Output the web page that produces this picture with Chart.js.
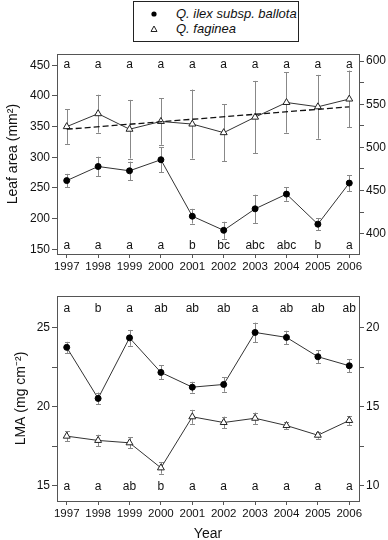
<!DOCTYPE html>
<html lang="en">
<head>
  <meta charset="UTF-8" />
  <title>Leaf area and LMA</title>
  <script src="https://cdn.jsdelivr.net/npm/chart.js"></script>
  <style>
    body { margin: 0; background: #fff; width: 388px; height: 540px; position: relative; overflow: hidden; }
    canvas { position: absolute; left: 0; }
    #areaChart { top: 45px; }
    #lmaChart { top: 285px; }
    .legend {
      position: absolute; left: 133px; top: 1px; width: 164px; height: 39px;
      border: 1px solid #222; font: italic 13px "Liberation Sans", Arial, sans-serif; color: #111;
    }
    .legend div { position: absolute; left: 42px; }
    .legend svg { position: absolute; left: 16px; }
  </style>
</head>
<body>
  <div class="legend">
    <svg width="8" height="8" style="top:8px"><circle cx="4" cy="4" r="2.6" fill="#000"/></svg>
    <div style="top:4px">Q. ilex subsp. ballota</div>
    <svg width="8" height="8" style="top:23px"><polygon points="4,1 7,6.5 1,6.5" fill="#fff" stroke="#222" stroke-width="1"/></svg>
    <div style="top:19px">Q. faginea</div>
  </div>

  <canvas id="areaChart" width="388" height="240"></canvas>
  <canvas id="lmaChart" width="388" height="258"></canvas>

  <script>
    const years = ['1997', '1998', '1999', '2000', '2001', '2002', '2003', '2004', '2005', '2006'];

    // leaf area (mm2): Q. ilex on left axis, Q. faginea on right axis
    const ilexArea = [262, 285, 278, 296, 204, 181, 216, 240, 191, 258];
    const ilexAreaErr = [11, 16, 15, 20, 12, 14, 23, 11, 10, 13];
    const fagineaArea = [524, 539, 521, 530, 527, 517, 535, 552, 547, 556];
    const fagineaAreaErr = [20, 22, 34, 27, 40, 33, 42, 35, 37, 33];
    const fagineaTrend = [521, 547];   // dashed fit, 1997 and 2006
    const areaLettersTop = ['a', 'a', 'a', 'a', 'a', 'a', 'a', 'a', 'a', 'a'];
    const areaLettersBottom = ['a', 'a', 'a', 'a', 'b', 'bc', 'abc', 'abc', 'b', 'a'];

    // LMA (mg cm-2)
    const ilexLma = [23.74, 20.52, 24.34, 22.16, 21.23, 21.4, 24.68, 24.37, 23.15, 22.58];
    const ilexLmaErr = [0.35, 0.37, 0.5, 0.44, 0.34, 0.46, 0.62, 0.42, 0.4, 0.4];
    const fagineaLma = [13.14, 12.87, 12.72, 11.14, 14.36, 14.0, 14.27, 13.81, 13.2, 14.13];
    const fagineaLmaErr = [0.32, 0.36, 0.35, 0.37, 0.44, 0.37, 0.36, 0.21, 0.22, 0.28];
    const lmaLettersTop = ['a', 'b', 'a', 'ab', 'ab', 'ab', 'a', 'ab', 'ab', 'ab'];
    const lmaLettersBottom = ['a', 'a', 'ab', 'b', 'a', 'a', 'a', 'a', 'a', 'a'];

    // labelled ticks
    const areaLeftTicks = [150, 200, 250, 300, 350, 400, 450];
    const areaRightTicks = [400, 450, 500, 550, 600];
    const lmaLeftTicks = [15, 20, 25];
    const lmaRightTicks = [10, 15, 20];

    Chart.defaults.font.family = '"Liberation Sans", Arial, sans-serif';
    Chart.defaults.color = '#111';

    const frameColor = '#555';

    // major + halfway minor ticks
    function withMinor(list) {
      const out = [];
      list.forEach((v, i) => {
        out.push(v);
        if (i < list.length - 1) out.push((v + list[i + 1]) / 2);
      });
      return out;
    }

    function pts(vals) {
      return vals.map((v, i) => ({ x: i, y: v }));
    }

    const framePlugin = {
      id: 'frame',
      afterDraw(chart) {
        const { ctx, chartArea: a } = chart;
        ctx.save();
        ctx.strokeStyle = frameColor;
        ctx.lineWidth = 1;
        ctx.strokeRect(Math.round(a.left) + 0.5, Math.round(a.top) + 0.5,
          Math.round(a.right - a.left), Math.round(a.bottom - a.top));
        ctx.restore();
      }
    };

    const errorBarPlugin = {
      id: 'errorBars',
      beforeDatasetsDraw(chart) {
        const ctx = chart.ctx;
        ctx.save();
        ctx.strokeStyle = '#888';
        ctx.lineWidth = 1;
        chart.data.datasets.forEach((ds, i) => {
          if (!ds.errors) return;
          const meta = chart.getDatasetMeta(i);
          const yScale = chart.scales[ds.yAxisID];
          meta.data.forEach((p, j) => {
            const v = ds.data[j].y;
            const top = yScale.getPixelForValue(v + ds.errors[j]);
            const bot = yScale.getPixelForValue(v - ds.errors[j]);
            const x = Math.round(p.x) + 0.5;
            ctx.beginPath();
            ctx.moveTo(x, top); ctx.lineTo(x, bot);
            ctx.moveTo(x - 2.5, Math.round(top) + 0.5); ctx.lineTo(x + 2.5, Math.round(top) + 0.5);
            ctx.moveTo(x - 2.5, Math.round(bot) + 0.5); ctx.lineTo(x + 2.5, Math.round(bot) + 0.5);
            ctx.stroke();
          });
        });
        ctx.restore();
      }
    };

    const lettersPlugin = {
      id: 'letters',
      afterDraw(chart, args, opts) {
        const { ctx, chartArea: a } = chart;
        const xScale = chart.scales.x;
        ctx.save();
        ctx.font = '12px "Liberation Sans", Arial, sans-serif';
        ctx.fillStyle = '#111';
        ctx.textAlign = 'center';
        ctx.textBaseline = 'middle';
        opts.top.forEach((t, i) => ctx.fillText(t, xScale.getPixelForValue(i), a.top + opts.topGap));
        opts.bottom.forEach((t, i) => ctx.fillText(t, xScale.getPixelForValue(i), a.bottom - opts.bottomGap));
        ctx.restore();
      }
    };

    function yAxis(pos, min, max, labelled, title, titlePad) {
      const all = withMinor(labelled);
      return {
        type: 'linear',
        position: pos,
        min: min,
        max: max,
        afterBuildTicks: s => { s.ticks = all.map(v => ({ value: v })); },
        afterFit: s => { s.width = pos === 'left' ? 57 : 29; },
        ticks: {
          font: { size: 12 },
          padding: 2,
          callback: v => labelled.includes(v) ? String(v) : ''
        },
        grid: { drawOnChartArea: false, tickLength: 5, color: frameColor },
        border: { display: false },
        title: title ? { display: true, text: title, font: { size: 14 }, padding: { top: titlePad, bottom: 0 } } : { display: false }
      };
    }

    function xAxis(height, title) {
      return {
        type: 'linear',
        position: 'bottom',
        min: -0.31,
        max: 9.31,
        afterBuildTicks: s => { s.ticks = years.map((y, i) => ({ value: i })); },
        afterFit: s => { s.height = height; },
        ticks: { font: { size: 11.5 }, padding: 2, maxRotation: 0, callback: v => years[v] },
        grid: { drawOnChartArea: false, tickLength: 4, color: frameColor },
        border: { display: false },
        title: title ? { display: true, text: title, font: { size: 14 }, padding: { top: 0, bottom: 0 } } : { display: false }
      };
    }

    const ilexStyle = {
      borderColor: '#333', borderWidth: 1, tension: 0,
      pointStyle: 'circle', pointRadius: 3, pointBackgroundColor: '#000', pointBorderColor: '#000', pointBorderWidth: 1
    };
    const fagineaStyle = {
      borderColor: '#333', borderWidth: 1, tension: 0,
      pointStyle: 'triangle', pointRadius: 4, pointBackgroundColor: '#fff', pointBorderColor: '#222', pointBorderWidth: 1
    };

    new Chart(document.getElementById('areaChart'), {
      type: 'line',
      data: {
        datasets: [
          { label: 'Q. faginea trend', data: [{ x: 0, y: fagineaTrend[0] }, { x: 9, y: fagineaTrend[1] }],
            yAxisID: 'y2', borderColor: '#111', borderWidth: 1.3, borderDash: [6, 3], pointRadius: 0 },
          Object.assign({ label: 'Q. ilex subsp. ballota', data: pts(ilexArea), errors: ilexAreaErr, yAxisID: 'y' }, ilexStyle),
          Object.assign({ label: 'Q. faginea', data: pts(fagineaArea), errors: fagineaAreaErr, yAxisID: 'y2' }, fagineaStyle)
        ]
      },
      options: {
        responsive: false,
        animation: false,
        layout: { padding: { top: 7, right: 0, bottom: 0, left: 0 } },
        scales: {
          x: xAxis(31, null),
          y: yAxis('left', 142.4, 468, areaLeftTicks, 'Leaf area (mm²)', 5),
          y2: yAxis('right', 376.3, 608, areaRightTicks, null, 0)
        },
        plugins: {
          legend: { display: false },
          tooltip: { enabled: false },
          letters: { top: areaLettersTop, bottom: areaLettersBottom, topGap: 10, bottomGap: 8 }
        }
      },
      plugins: [errorBarPlugin, framePlugin, lettersPlugin]
    });

    new Chart(document.getElementById('lmaChart'), {
      type: 'line',
      data: {
        datasets: [
          Object.assign({ label: 'Q. ilex subsp. ballota', data: pts(ilexLma), errors: ilexLmaErr, yAxisID: 'y' }, ilexStyle),
          Object.assign({ label: 'Q. faginea', data: pts(fagineaLma), errors: fagineaLmaErr, yAxisID: 'y2' }, fagineaStyle)
        ]
      },
      options: {
        responsive: false,
        animation: false,
        layout: { padding: { top: 11, right: 0, bottom: 0, left: 0 } },
        scales: {
          x: xAxis(42, 'Year'),
          y: yAxis('left', 14.05, 26.98, lmaLeftTicks, 'LMA (mg cm⁻²)', 13),
          y2: yAxis('right', 9.05, 21.98, lmaRightTicks, null, 0)
        },
        plugins: {
          legend: { display: false },
          tooltip: { enabled: false },
          letters: { top: lmaLettersTop, bottom: lmaLettersBottom, topGap: 13, bottomGap: 14 }
        }
      },
      plugins: [errorBarPlugin, framePlugin, lettersPlugin]
    });
  </script>
</body>
</html>
